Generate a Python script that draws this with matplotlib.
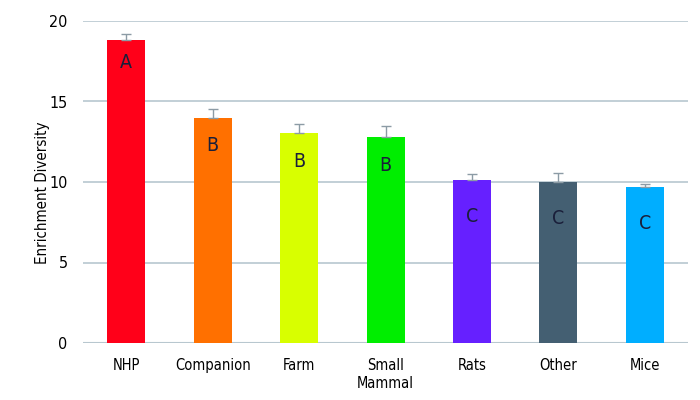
import numpy as np
import matplotlib.pyplot as plt

# Data
species = ['NHP', 'Companion', 'Farm', 'Small\nMammal', 'Rats', 'Other', 'Mice']
diversity = [18.8, 14.0, 13.05, 12.8, 10.12, 9.98, 9.68]
err_upper = [0.4, 0.55, 0.55, 0.7, 0.4, 0.6, 0.22]
groups = ['A', 'B', 'B', 'B', 'C', 'C', 'C']
colors = ['#FF0019', '#FF7000', '#D8FF00', '#00EE00', '#6620FF', '#445F72', '#00AEFF']

plt.rcParams['font.family'] = ['DejaVu Sans']
plt.rcParams['font.stretch'] = 'condensed'

fig = plt.figure(figsize=(7, 4), dpi=100)
ax = fig.add_axes([0.1186, 0.1425, 0.8644, 0.805])

x = np.arange(len(species))
ax.bar(x, diversity, width=0.44, color=colors, zorder=2)
ax.errorbar(x, diversity, yerr=[np.zeros(len(x)), err_upper], fmt='none',
            ecolor='#8C9BA5', elinewidth=1, capsize=3.5, capthick=1, zorder=3, clip_on=False)

# group letters inside bars
offset = {'A': 1.4, 'B': 1.75, 'C': 2.25}
for xi, v, g in zip(x, diversity, groups):
    ax.text(xi, v - offset[g], g, ha='center', va='center', fontsize=14,
            color='#1A1F3A', zorder=4)

ax.set_xlim(-0.5, 6.5)
ax.set_ylim(0, 20)
ax.set_yticks([0, 5, 10, 15, 20])
ax.set_xticks(x)
ax.set_xticklabels(species, fontsize=10.5, linespacing=1.2, color='#000000')
ax.tick_params(axis='y', labelsize=11.5, length=0, pad=11, labelcolor='#000000')
ax.tick_params(axis='x', length=0, pad=11)
ax.grid(axis='y', color='#B8C7CF', linewidth=1.2, zorder=0)
for s in ['top', 'right', 'left', 'bottom']:
    ax.spines[s].set_visible(False)
ax.axhline(0, color='#B8C7CF', linewidth=1.5, zorder=1)

ax.set_ylabel('Enrichment Diversity', fontsize=10.8, color='#000000')
ax.yaxis.set_label_coords(-0.054, 0.466)
ax.set_xlabel('Species Type', fontsize=12)
ax.xaxis.set_label_coords(0.5, -0.35)

fig.savefig('out.png', dpi=100)
